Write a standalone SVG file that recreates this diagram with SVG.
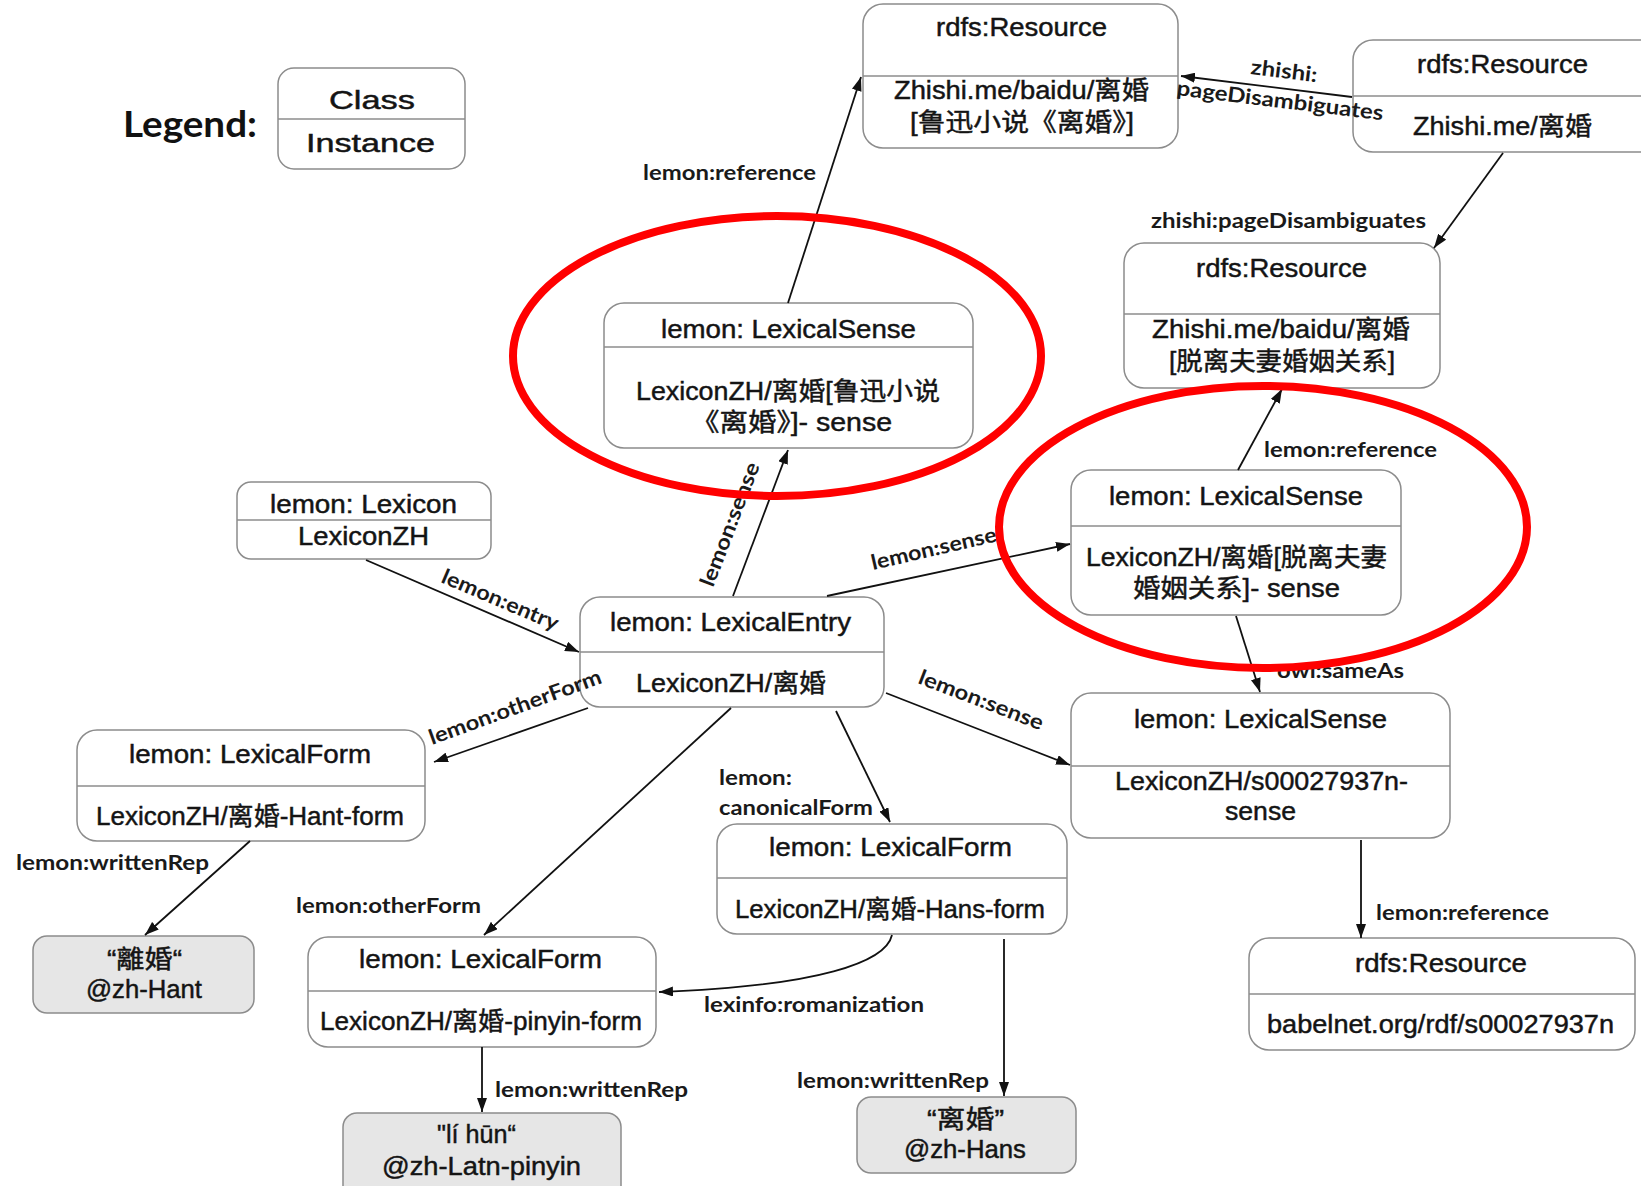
<svg xmlns="http://www.w3.org/2000/svg" width="1641" height="1186" viewBox="0 0 1641 1186">
  <style>
    .box { fill: #ffffff; stroke: #8c8c8c; stroke-width: 1.5; }
    .lit { fill: #e6e6e6; stroke: #8c8c8c; stroke-width: 1.5; }
    .div { stroke: #8c8c8c; stroke-width: 1.5; }
    .nt { font-family: "Liberation Sans", "Noto Sans CJK SC", sans-serif; font-size: 25px; fill: #141414; stroke: #141414; stroke-width: 0.45; }
    .lb { font-family: Lato, "Liberation Sans", sans-serif; font-size: 21px; font-weight: bold; fill: #1a1a1a; }
    .edge { stroke: #111111; stroke-width: 1.8; fill: none; marker-end: url(#ah); }
    .ring { fill: none; stroke: #ff0000; stroke-width: 8; }
  </style>
  <defs>
    <marker id="ah" markerUnits="userSpaceOnUse" markerWidth="15" markerHeight="10" refX="14" refY="5" orient="auto">
      <path d="M0,0 L14,5 L0,10 z" fill="#111111"/>
    </marker>
  </defs>

  <rect width="1641" height="1186" fill="#ffffff"/>

  <!-- legend -->
  <g id="legend">
    <text x="123" y="137" font-family="Lato, 'Liberation Sans', sans-serif" font-weight="bold" font-size="36" fill="#111" textLength="134" lengthAdjust="spacingAndGlyphs">Legend:</text>
    <rect class="box" x="278" y="68" width="187" height="101" rx="16"/>
    <line class="div" x1="278" y1="119" x2="465" y2="119"/>
    <text class="nt" x="329" y="109" font-size="32" textLength="86" lengthAdjust="spacingAndGlyphs">Class</text>
    <text class="nt" x="306" y="152" font-size="32" textLength="129" lengthAdjust="spacingAndGlyphs">Instance</text>
  </g>

  <!-- nodes -->
  <g id="res-baidu-luxun">
    <rect class="box" x="863" y="4" width="315" height="144" rx="20"/>
    <line class="div" x1="863" y1="76" x2="1178" y2="76"/>
    <text class="nt" x="936" y="36" textLength="171" lengthAdjust="spacingAndGlyphs">rdfs:Resource</text>
    <text class="nt" x="894" y="99" textLength="255" lengthAdjust="spacingAndGlyphs">Zhishi.me/baidu/离婚</text>
    <text class="nt" x="910" y="131" textLength="224" lengthAdjust="spacingAndGlyphs">[鲁迅小说《离婚》]</text>
  </g>

  <g id="res-zhishi">
    <rect class="box" x="1353" y="40" width="310" height="112" rx="20"/>
    <line class="div" x1="1353" y1="96" x2="1663" y2="96"/>
    <text class="nt" x="1417" y="73" textLength="171" lengthAdjust="spacingAndGlyphs">rdfs:Resource</text>
    <text class="nt" x="1413" y="135" textLength="179" lengthAdjust="spacingAndGlyphs">Zhishi.me/离婚</text>
  </g>

  <g id="res-baidu-marriage">
    <rect class="box" x="1124" y="243" width="316" height="145" rx="20"/>
    <line class="div" x1="1124" y1="314" x2="1440" y2="314"/>
    <text class="nt" x="1196" y="277" textLength="171" lengthAdjust="spacingAndGlyphs">rdfs:Resource</text>
    <text class="nt" x="1152" y="338" textLength="258" lengthAdjust="spacingAndGlyphs">Zhishi.me/baidu/离婚</text>
    <text class="nt" x="1169" y="370" textLength="226" lengthAdjust="spacingAndGlyphs">[脱离夫妻婚姻关系]</text>
  </g>

  <g id="sense-luxun">
    <rect class="box" x="604" y="303" width="369" height="145" rx="20"/>
    <line class="div" x1="604" y1="347" x2="973" y2="347"/>
    <text class="nt" x="661" y="338" textLength="255" lengthAdjust="spacingAndGlyphs">lemon: LexicalSense</text>
    <text class="nt" x="636" y="400" textLength="304" lengthAdjust="spacingAndGlyphs">LexiconZH/离婚[鲁迅小说</text>
    <text class="nt" x="691" y="431" textLength="201" lengthAdjust="spacingAndGlyphs">《离婚》]- sense</text>
  </g>

  <g id="sense-marriage">
    <rect class="box" x="1071" y="470" width="330" height="145" rx="20"/>
    <line class="div" x1="1071" y1="526" x2="1401" y2="526"/>
    <text class="nt" x="1109" y="505" textLength="254" lengthAdjust="spacingAndGlyphs">lemon: LexicalSense</text>
    <text class="nt" x="1086" y="566" textLength="301" lengthAdjust="spacingAndGlyphs">LexiconZH/离婚[脱离夫妻</text>
    <text class="nt" x="1133" y="597" textLength="207" lengthAdjust="spacingAndGlyphs">婚姻关系]- sense</text>
  </g>

  <g id="sense-babelnet">
    <rect class="box" x="1071" y="693" width="379" height="145" rx="20"/>
    <line class="div" x1="1071" y1="766" x2="1450" y2="766"/>
    <text class="nt" x="1134" y="728" textLength="253" lengthAdjust="spacingAndGlyphs">lemon: LexicalSense</text>
    <text class="nt" x="1115" y="790" textLength="293" lengthAdjust="spacingAndGlyphs">LexiconZH/s00027937n-</text>
    <text class="nt" x="1225" y="820" textLength="71" lengthAdjust="spacingAndGlyphs">sense</text>
  </g>

  <g id="res-babelnet">
    <rect class="box" x="1249" y="938" width="386" height="112" rx="20"/>
    <line class="div" x1="1249" y1="994" x2="1635" y2="994"/>
    <text class="nt" x="1355" y="972" textLength="172" lengthAdjust="spacingAndGlyphs">rdfs:Resource</text>
    <text class="nt" x="1267" y="1033" textLength="347" lengthAdjust="spacingAndGlyphs">babelnet.org/rdf/s00027937n</text>
  </g>

  <g id="lexicon">
    <rect class="box" x="237" y="482" width="254" height="77" rx="14"/>
    <line class="div" x1="237" y1="520" x2="491" y2="520"/>
    <text class="nt" x="270" y="513" textLength="187" lengthAdjust="spacingAndGlyphs">lemon: Lexicon</text>
    <text class="nt" x="298" y="545" textLength="131" lengthAdjust="spacingAndGlyphs">LexiconZH</text>
  </g>

  <g id="entry">
    <rect class="box" x="580" y="597" width="304" height="110" rx="20"/>
    <line class="div" x1="580" y1="652" x2="884" y2="652"/>
    <text class="nt" x="610" y="631" textLength="241" lengthAdjust="spacingAndGlyphs">lemon: LexicalEntry</text>
    <text class="nt" x="636" y="692" textLength="190" lengthAdjust="spacingAndGlyphs">LexiconZH/离婚</text>
  </g>

  <g id="form-hant">
    <rect class="box" x="77" y="730" width="348" height="111" rx="20"/>
    <line class="div" x1="77" y1="786" x2="425" y2="786"/>
    <text class="nt" x="129" y="763" textLength="242" lengthAdjust="spacingAndGlyphs">lemon: LexicalForm</text>
    <text class="nt" x="96" y="825" textLength="308" lengthAdjust="spacingAndGlyphs">LexiconZH/离婚-Hant-form</text>
  </g>

  <g id="literal-hant">
    <rect class="lit" x="33" y="936" width="221" height="77" rx="14"/>
    <text class="nt" x="107" y="968" textLength="75" lengthAdjust="spacingAndGlyphs">“離婚“</text>
    <text class="nt" x="86" y="998" textLength="116" lengthAdjust="spacingAndGlyphs">@zh-Hant</text>
  </g>

  <g id="form-pinyin">
    <rect class="box" x="308" y="937" width="348" height="110" rx="20"/>
    <line class="div" x1="308" y1="991" x2="656" y2="991"/>
    <text class="nt" x="359" y="968" textLength="243" lengthAdjust="spacingAndGlyphs">lemon: LexicalForm</text>
    <text class="nt" x="320" y="1030" textLength="322" lengthAdjust="spacingAndGlyphs">LexiconZH/离婚-pinyin-form</text>
  </g>

  <g id="literal-pinyin">
    <rect class="lit" x="343" y="1113" width="278" height="100" rx="14"/>
    <text class="nt" x="437" y="1143" textLength="79" lengthAdjust="spacingAndGlyphs">"lí hūn“</text>
    <text class="nt" x="382" y="1175" textLength="199" lengthAdjust="spacingAndGlyphs">@zh-Latn-pinyin</text>
  </g>

  <g id="form-hans">
    <rect class="box" x="717" y="824" width="350" height="110" rx="20"/>
    <line class="div" x1="717" y1="878" x2="1067" y2="878"/>
    <text class="nt" x="769" y="856" textLength="243" lengthAdjust="spacingAndGlyphs">lemon: LexicalForm</text>
    <text class="nt" x="735" y="918" textLength="310" lengthAdjust="spacingAndGlyphs">LexiconZH/离婚-Hans-form</text>
  </g>

  <g id="literal-hans">
    <rect class="lit" x="857" y="1097" width="219" height="76" rx="14"/>
    <text class="nt" x="927" y="1128" textLength="77" lengthAdjust="spacingAndGlyphs">“离婚”</text>
    <text class="nt" x="904" y="1158" textLength="122" lengthAdjust="spacingAndGlyphs">@zh-Hans</text>
  </g>

  <!-- connectors and their labels, drawn above the boxes -->
  <g id="connectors">
    <line class="edge" x1="788" y1="303" x2="861" y2="77"/>
    <line class="edge" x1="1352" y1="97" x2="1181" y2="76"/>
    <line class="edge" x1="1503" y1="153" x2="1434" y2="248"/>
    <line class="edge" x1="1238" y1="470" x2="1282" y2="389"/>
    <line class="edge" x1="1236" y1="616" x2="1260" y2="692"/>
    <line class="edge" x1="1361" y1="840" x2="1361" y2="938"/>
    <line class="edge" x1="366" y1="560" x2="579" y2="652"/>
    <line class="edge" x1="733" y1="596" x2="788" y2="450"/>
    <line class="edge" x1="827" y1="596" x2="1070" y2="544"/>
    <line class="edge" x1="886" y1="693" x2="1070" y2="765"/>
    <line class="edge" x1="836" y1="711" x2="890" y2="822"/>
    <line class="edge" x1="588" y1="708" x2="434" y2="762"/>
    <line class="edge" x1="731" y1="708" x2="484" y2="935"/>
    <line class="edge" x1="250" y1="841" x2="145" y2="935"/>
    <line class="edge" x1="482" y1="1047" x2="482" y2="1112"/>
    <path class="edge" d="M892,935 C886,962 820,986 659,992"/>
    <line class="edge" x1="1004" y1="939" x2="1004" y2="1096"/>

    <text class="lb" x="643" y="180" textLength="173" lengthAdjust="spacingAndGlyphs">lemon:reference</text>
    <text class="lb" x="1250" y="74" transform="rotate(7 1250 74)" textLength="67" lengthAdjust="spacingAndGlyphs">zhishi:</text>
    <text class="lb" x="1176" y="95" transform="rotate(7 1176 95)" textLength="208" lengthAdjust="spacingAndGlyphs">pageDisambiguates</text>
    <text class="lb" x="1151" y="228" textLength="275" lengthAdjust="spacingAndGlyphs">zhishi:pageDisambiguates</text>
    <text class="lb" x="1264" y="457" textLength="173" lengthAdjust="spacingAndGlyphs">lemon:reference</text>
    <text class="lb" x="1277" y="678" textLength="127" lengthAdjust="spacingAndGlyphs">owl:sameAs</text>
    <text class="lb" x="1376" y="920" textLength="173" lengthAdjust="spacingAndGlyphs">lemon:reference</text>
    <text class="lb" x="440" y="582" transform="rotate(23 440 582)" textLength="125" lengthAdjust="spacingAndGlyphs">lemon:entry</text>
    <text class="lb" x="713" y="588" transform="rotate(-69 713 588)" textLength="131" lengthAdjust="spacingAndGlyphs">lemon:sense</text>
    <text class="lb" x="873" y="570" transform="rotate(-13 873 570)" textLength="128" lengthAdjust="spacingAndGlyphs">lemon:sense</text>
    <text class="lb" x="917" y="683" transform="rotate(21 917 683)" textLength="132" lengthAdjust="spacingAndGlyphs">lemon:sense</text>
    <text class="lb" x="432" y="745" transform="rotate(-20 432 745)" textLength="182" lengthAdjust="spacingAndGlyphs">lemon:otherForm</text>
    <text class="lb" x="719" y="785" textLength="73" lengthAdjust="spacingAndGlyphs">lemon:</text>
    <text class="lb" x="719" y="815" textLength="154" lengthAdjust="spacingAndGlyphs">canonicalForm</text>
    <text class="lb" x="16" y="870" textLength="193" lengthAdjust="spacingAndGlyphs">lemon:writtenRep</text>
    <text class="lb" x="296" y="913" textLength="185" lengthAdjust="spacingAndGlyphs">lemon:otherForm</text>
    <text class="lb" x="704" y="1012" textLength="220" lengthAdjust="spacingAndGlyphs">lexinfo:romanization</text>
    <text class="lb" x="495" y="1097" textLength="193" lengthAdjust="spacingAndGlyphs">lemon:writtenRep</text>
    <text class="lb" x="797" y="1088" textLength="192" lengthAdjust="spacingAndGlyphs">lemon:writtenRep</text>
  </g>

  <!-- red highlight rings drawn over everything -->
  <g id="highlights">
    <ellipse class="ring" cx="777" cy="356" rx="264" ry="140"/>
    <ellipse class="ring" cx="1263" cy="527" rx="264" ry="141"/>
  </g>
</svg>
